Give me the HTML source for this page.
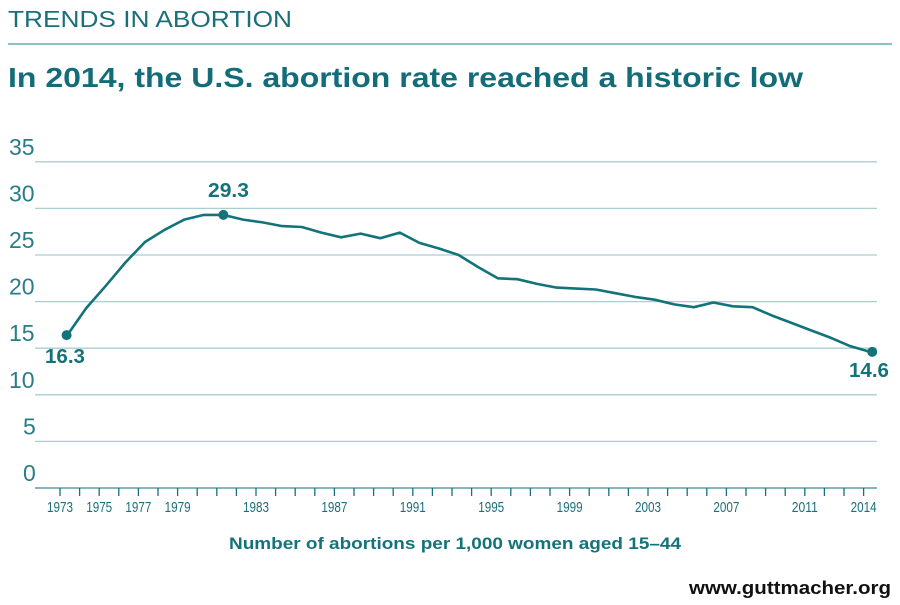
<!DOCTYPE html>
<html><head><meta charset="utf-8"><style>
html,body{margin:0;padding:0;background:#fff;}
svg{display:block;font-family:"Liberation Sans",sans-serif;}
</style></head><body>
<svg width="900" height="605" viewBox="0 0 900 605" xmlns="http://www.w3.org/2000/svg">
<text x="8" y="27" font-size="23" fill="#1a6f7a" textLength="284" lengthAdjust="spacingAndGlyphs">TRENDS IN ABORTION</text>
<rect x="8" y="43" width="884" height="2" fill="#8cc0c5"/>
<text x="8" y="87" font-size="28" font-weight="bold" fill="#136d78" textLength="795" lengthAdjust="spacingAndGlyphs">In 2014, the U.S. abortion rate reached a historic low</text>
<g id="grid" stroke="#a9cfd2" stroke-width="1.3"></g>
<g id="ylab" font-size="23" fill="#2a7d86"></g>
<line x1="35" y1="488" x2="877" y2="488" stroke="#5f9ea5" stroke-width="1.5"/>
<g id="ticks" stroke="#1a6f7a" stroke-width="1.3"></g>
<g id="xlab" font-size="15" fill="#1a6f7a"></g>
<polyline id="line" fill="none" stroke="#13737a" stroke-width="2.6" stroke-linejoin="round"/>
<circle cx="66.6" cy="335.1" r="5" fill="#13737a"/>
<circle cx="223.4" cy="214.9" r="5" fill="#13737a"/>
<circle cx="872.2" cy="351.9" r="5" fill="#13737a"/>
<text x="45" y="363" font-size="20" font-weight="bold" fill="#13737a" textLength="40" lengthAdjust="spacingAndGlyphs">16.3</text>
<text x="208" y="197" font-size="20" font-weight="bold" fill="#13737a" textLength="41" lengthAdjust="spacingAndGlyphs">29.3</text>
<text x="849" y="377" font-size="20" font-weight="bold" fill="#13737a" textLength="40" lengthAdjust="spacingAndGlyphs">14.6</text>
<text x="455" y="549" font-size="17" font-weight="bold" fill="#13737a" text-anchor="middle" textLength="452" lengthAdjust="spacingAndGlyphs">Number of abortions per 1,000 women aged 15–44</text>
<text x="891" y="594" font-size="18" font-weight="bold" fill="#111" text-anchor="end" textLength="202" lengthAdjust="spacingAndGlyphs">www.guttmacher.org</text>
</svg>
<script>
var NS="http://www.w3.org/2000/svg";
function el(p,t,a,txt){var e=document.createElementNS(NS,t);for(var k in a)e.setAttribute(k,a[k]);if(txt!=null)e.textContent=txt;document.getElementById(p).appendChild(e);}
function Y(v){return 488-v*9.32;}
for(var v=5;v<=35;v+=5){el("grid","line",{x1:35,x2:877,y1:Y(v),y2:Y(v)});}
for(var v=0;v<=35;v+=5){el("ylab","text",{x:v<10?23:9,y:Y(v)-7},String(v));}
for(var yr=1973;yr<=2014;yr++){var x=60+(yr-1973)*19.6;el("ticks","line",{x1:x,x2:x,y1:488,y2:496});}
[1973,1975,1977,1979,1983,1987,1991,1995,1999,2003,2007,2011,2014].forEach(function(yr){var x=60+(yr-1973)*19.6;el("xlab","text",{x:x,y:512,"text-anchor":"middle",textLength:26,lengthAdjust:"spacingAndGlyphs"},String(yr));});
var d=[16.3,19.3,21.7,24.2,26.4,27.7,28.8,29.3,29.3,28.8,28.5,28.1,28.0,27.4,26.9,27.3,26.8,27.4,26.3,25.7,25.0,23.7,22.5,22.4,21.9,21.5,21.4,21.3,20.9,20.5,20.2,19.7,19.4,19.9,19.5,19.4,18.5,17.7,16.9,16.1,15.2,14.6];
var pts=d.map(function(v,i){return (66.6+i*19.6).toFixed(1)+","+Y(v).toFixed(1);}).join(" ");
document.getElementById("line").setAttribute("points",pts);
</script>
</body></html>
